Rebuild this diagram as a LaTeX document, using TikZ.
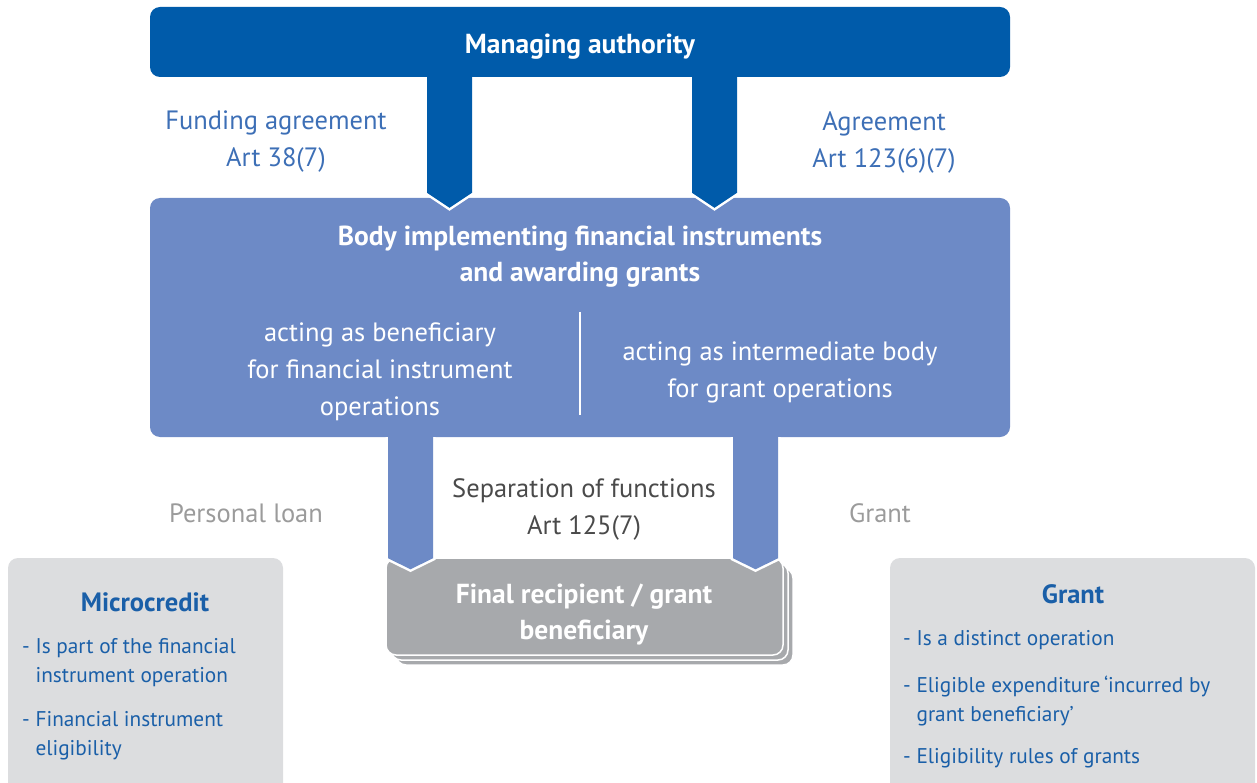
\documentclass[tikz,border=0pt]{standalone}
\usepackage{fontspec}
\setmainfont{PT Sans}
\usetikzlibrary{calc}

\definecolor{mablue}{HTML}{005BAA}
\definecolor{bodyblue}{HTML}{6D8AC6}
\definecolor{recgray}{HTML}{A7A9AC}
\definecolor{boxgray}{HTML}{DCDDDF}
\definecolor{lblblue}{HTML}{3D6FB6}
\definecolor{txtblue}{HTML}{1A5FA8}
\definecolor{softgray}{HTML}{9B9B9B}
\definecolor{darkgray}{HTML}{4A4A4A}

\tikzset{
  panel/.style={rounded corners=10pt, minimum width=#1, inner sep=0pt},
  main/.style={font=\fontsize{26.5}{37}\selectfont, align=center, inner sep=0pt},
  mainbold/.style={font=\bfseries\fontsize{27.5}{36}\selectfont, align=center, inner sep=0pt, text=white},
  side/.style={font=\fontsize{21.3}{29}\selectfont, align=left, inner sep=0pt, text=txtblue, anchor=north west},
  sidetitle/.style={font=\bfseries\fontsize{26.5}{30}\selectfont, inner sep=0pt, text=txtblue},
}

% block arrow running down from the lower edge of #2 into the upper edge of #3
% #1 centre line, #4 colour, #5 corner offset, #6 tip offset (both from #3's top)
\newcommand\blockdown[6]{%
  \draw[white, line width=5pt, line join=miter]
    ($(#2.south -| #1)+(-22.5,0)$) -- ($(#3.north -| #1)+(-22.5,#5)$)
    -- ($(#3.north -| #1)+(0,#6)$) -- ($(#3.north -| #1)+(22.5,#5)$)
    -- ($(#2.south -| #1)+(22.5,0)$);
  \fill[#4]
    ($(#2.south -| #1)+(-22.5,-3)$) -- ($(#3.north -| #1)+(-22.5,#5)$)
    -- ($(#3.north -| #1)+(0,#6)$) -- ($(#3.north -| #1)+(22.5,#5)$)
    -- ($(#2.south -| #1)+(22.5,-3)$) -- cycle;
}

\begin{document}
\begin{tikzpicture}[x=1pt, y=-1pt]
\useasboundingbox (0,0) rectangle (1257,783);

% side panels
\node[panel=275pt, minimum height=250pt, fill=boxgray] (micro) at (145.5,683) {};
\node[panel=365pt, minimum height=250pt, fill=boxgray] (grantbox) at (1072.5,683) {};

% stacked final recipient boxes
\node[panel=397pt, minimum height=97pt, fill=recgray, draw=white, line width=1.5pt] (fr3) at (594.5,616.5) {};
\node[panel=397pt, minimum height=97pt, fill=recgray, draw=white, line width=1.5pt] (fr2) at (589.5,611.5) {};
\node[panel=397pt, minimum height=97pt, fill=recgray, draw=white, line width=1.5pt] (fr) at (584.5,606.5) {};

% main boxes
\node[panel=860pt, minimum height=70pt, fill=mablue] (ma) at (580,42) {};
\node[panel=860pt, minimum height=239pt, fill=bodyblue] (body) at (580,317.5) {};

% arrow centre lines
\coordinate (xa) at (449.5,0);
\coordinate (xb) at (714.5,0);
\coordinate (xc) at (410.5,0);
\coordinate (xd) at (755.5,0);

\blockdown{xa}{ma}{body}{mablue}{-5}{10}
\blockdown{xb}{ma}{body}{mablue}{-5}{10}
\blockdown{xc}{body}{fr}{bodyblue}{1}{12}
\blockdown{xd}{body}{fr}{bodyblue}{1}{12}

% divider inside the implementing body
\draw[white, line width=2pt] (580,312) -- (580,415);

% texts
\node[mainbold] (matext) at (580,47) {Managing authority};
\node[main, text=lblblue] (fa) at (276,142) {Funding agreement\\Art 38(7)};
\node[main, text=lblblue] (ag) at (884,142) {Agreement\\Art 123(6)(7)};
\node[mainbold] (bodytitle) at (580,257) {Body implementing financial instruments\\and awarding grants};
\node[main, text=white] (benef) at (380,372) {acting as beneficiary\\for financial instrument\\operations};
\node[main, text=white] (inter) at (780,372.5) {acting as intermediate body\\for grant operations};
\node[main, text=softgray] (loan) at (246,513) {Personal loan};
\node[main, text=softgray] (grantlbl) at (880,513) {Grant};
\node[main, text=darkgray] (sep) at (584,509) {Separation of functions\\Art 125(7)};
\node[mainbold] (frtext) at (584,615) {Final recipient / grant\\beneficiary};

\node[sidetitle] (microtitle) at (145,602) {Microcredit};
\node[side] (m1) at (22,638) {- Is part of the financial\\\phantom{- }instrument operation};
\node[side] (m2) at (22,711) {- Financial instrument\\\phantom{- }eligibility};

\node[sidetitle] (granttitle) at (1073,594) {Grant};
\node[side] (g1) at (903,630) {- Is a distinct operation};
\node[side] (g2) at (903,676) {- Eligible expenditure\,‘incurred by\\\phantom{- }grant beneficiary’};
\node[side] (g3) at (903,748) {- Eligibility rules of grants};
\end{tikzpicture}
\end{document}
